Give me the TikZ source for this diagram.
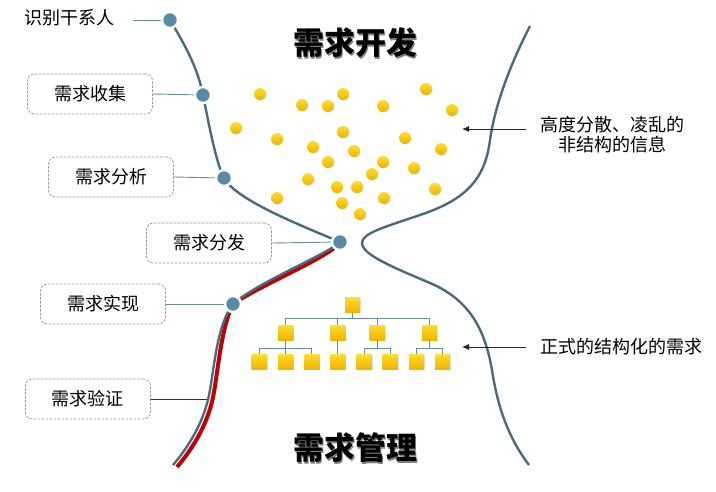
\documentclass[tikz,border=0pt]{standalone}
\usepackage{fontspec}
\setmainfont{Noto Sans CJK SC}
\usepackage{tikz}
\usetikzlibrary{arrows.meta,shadows}
\definecolor{CurveBlue}{HTML}{4A6B7B}
\definecolor{KnotBlue}{HTML}{5A8BA6}
\definecolor{LinkBlue}{HTML}{6A8E9E}
\definecolor{ReqRed}{HTML}{C00000}
\definecolor{BoxGray}{HTML}{9A9A9A}
\definecolor{GoldTop}{HTML}{FFDC30}
\definecolor{GoldBot}{HTML}{EDB400}

\begin{document}
\begin{tikzpicture}[x=1pt, y=-1pt,
    curve/.style={draw=CurveBlue, line width=2.4pt},
    redcurve/.style={draw=ReqRed, line width=4pt},
    knot/.style={circle, fill=KnotBlue, draw=white, line width=2.4pt, minimum size=16pt, inner sep=0pt,
      drop shadow={opacity=0.3, shadow xshift=0.7pt, shadow yshift=-0.7pt}},
    stagebox/.style={draw=BoxGray, line width=0.8pt, dash pattern=on 2.5pt off 1.5pt, rounded corners=7pt,
      fill=white, minimum width=125pt, minimum height=40pt, font=\fontsize{18}{20}\selectfont},
    link/.style={draw=LinkBlue, line width=0.9pt},
    redlink/.style={draw=ReqRed!85!black, line width=0.9pt},
    bead/.style={circle, inner sep=0pt, minimum size=12pt, top color=GoldTop, bottom color=GoldBot,
      drop shadow={opacity=0.25, shadow xshift=0.6pt, shadow yshift=-0.6pt}},
    block/.style={rectangle, inner sep=0pt, minimum size=15pt, top color=GoldTop, bottom color=GoldBot,
      drop shadow={opacity=0.25, shadow xshift=0.8pt, shadow yshift=-0.8pt}},
    tline/.style={draw=LinkBlue, line width=0.8pt},
    note/.style={font=\fontsize{18}{20}\selectfont, align=center, inner xsep=14pt},
    arr/.style={-{Latex[length=7pt,width=6pt]}, line width=0.9pt, draw=black!85},
    heading/.style={font=\fontsize{31}{33}\selectfont\bfseries}
  ]
    \useasboundingbox (0,0) rectangle (716,491);

    \coordinate (p1) at (170,20);
    \coordinate (p2) at (203,95);
    \coordinate (p3) at (224,178);
    \coordinate (p4) at (340,242);
    \coordinate (p5) at (233,304);
    \coordinate (v) at (207,399);

    \node[heading, text=black!50] (devs) at (356.5,44.5) {需求开发};
    \node[heading] (dev) at (355,43) {需求开发};
    \node[heading, text=black!50] (mgts) at (356.5,449.5) {需求管理};
    \node[heading] (mgt) at (355,448) {需求管理};

    \node[note, inner xsep=0pt] (s0) at (69,18) {识别干系人};
    \node[stagebox] (s1) at (90,94) {需求收集};
    \node[stagebox] (s2) at (111,177) {需求分析};
    \node[stagebox] (s3) at (209,243) {需求分发};
    \node[stagebox] (s4) at (103,304) {需求实现};
    \node[stagebox] (s5) at (88,399) {需求验证};

    \draw[redlink] (s5.east) -- (v);

    \draw[redcurve, shift={(4,2)}] (p4) .. controls (328,254) and (258,282) .. (p5)
      .. controls (218,324) and (215,360) .. (210,390)
      .. controls (205,420) and (190,445) .. (173,465);
    \draw[curve] (p1) .. controls (188,50) and (198,70) .. (p2)
      .. controls (208,120) and (216,163) .. (p3)
      .. controls (236,200) and (300,225) .. (p4)
      .. controls (328,254) and (258,282) .. (p5)
      .. controls (218,324) and (215,360) .. (210,390)
      .. controls (205,420) and (190,445) .. (173,465);
    \draw[curve] (530,26) .. controls (510,65) and (495,105) .. (490,140)
      .. controls (485,180) and (465,200) .. (420,215)
      .. controls (385,227) and (362,233) .. (362,243)
      .. controls (362,255) and (395,268) .. (430,283)
      .. controls (470,300) and (485,330) .. (492,370)
      .. controls (498,410) and (510,440) .. (529,465);

    \draw[link] (s0.east |- p1) ++(19,0) -- (p1);
    \foreach \i/\j in {1/2,2/3,3/4,4/5}
      \draw[link] (s\i.east) -- (p\j);
    \foreach \i in {1,...,5}
      \node[knot] (d\i) at (p\i) {};

    \foreach \x/\y [count=\i] in {260/94, 302/105, 328/106, 343/94, 383/106, 426/89, 452/110,
        236/128, 277/139, 343/132, 313/147, 354/151, 405/138, 441/149, 328/162, 383/162,
        414/168, 372/174, 308/179, 337/187, 357/187, 435/189, 277/198, 342/203, 384/198, 360/214}
      \node[bead] (b\i) at (\x,\y) {};

    \node[block] (r) at (352.5,305) {};
    \foreach \x [count=\i] in {285.8,337.8,377.2,429.5}
      \node[block] (m\i) at (\x,332.5) {};
    \foreach \x [count=\i] in {259.2,285.8,311.8,337.8,364.2,390.2,416.5,442.5}
      \node[block] (l\i) at (\x,361.7) {};
    \foreach \i in {1,...,4}
      \draw[tline] (r.south) -- ++(0,6) -| (m\i.north);
    \foreach \p/\c in {1/1,1/2,1/3,2/4,3/5,3/6,4/7,4/8}
      \draw[tline] (m\p.south) -- ++(0,7.7) -| (l\c.north);

    \coordinate (ia) at (462,129);
    \coordinate (ib) at (462,347);
    \node[note] (info) at (612,135) {高度分散、凌乱的\\非结构的信息};
    \node[note] (spec) at (621.5,347) {正式的结构化的需求};
    \draw[arr] (info.west |- ia) -- (ia);
    \draw[arr] (spec.west |- ib) -- (ib);
  \end{tikzpicture}
\end{document}
